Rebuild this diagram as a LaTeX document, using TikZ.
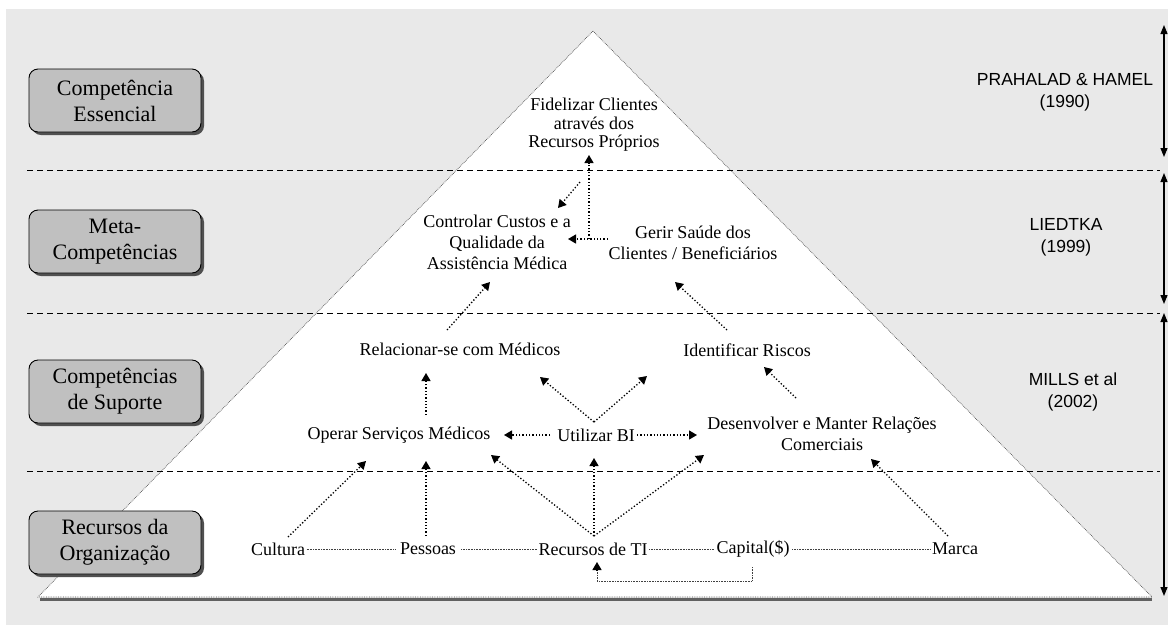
\documentclass[tikz,border=0pt]{standalone}
\usepackage{fontspec}
\setmainfont{Liberation Serif}
\newfontfamily\refsans{Liberation Sans}
\usetikzlibrary{arrows.meta,shadows,calc}

\definecolor{bggray}{HTML}{E9E9E9}
\definecolor{boxgray}{HTML}{C0C0C0}
\definecolor{shadowgray}{HTML}{505050}

\begin{document}
\begin{tikzpicture}[x=1pt,y=-1pt,
  lvlbox/.style={draw=black, line width=0.9pt, fill=boxgray, rounded corners=9pt,
    minimum width=172pt, minimum height=63pt, inner sep=0pt, align=center,
    font=\fontsize{22}{26}\selectfont,
    drop shadow={shadow xshift=3pt, shadow yshift=-3pt, fill=shadowgray, opacity=1}},
  txt/.style={font=\fontsize{18}{21}\selectfont, align=center, inner sep=0pt},
  reflab/.style={font=\refsans\fontsize{17.5}{22}\selectfont, align=center, inner sep=0pt},
  dotarr/.style={line width=1.3pt, dotted, -{Triangle[length=8pt,width=9pt]}},
  dotline/.style={line width=1.3pt, dotted},
  link/.style={line width=0.6pt, densely dotted, draw=black!75},
  levelsep/.style={line width=0.9pt, dash pattern=on 6pt off 4pt},
  refarr/.style={line width=1.2pt, {Triangle[length=9pt,width=7pt]}-{Triangle[length=9pt,width=7pt]}}
]
% canvas and background panel
\useasboundingbox (0,0) rectangle (1168,625);
\fill[white] (0,0) rectangle (1168,625);
\fill[bggray] (6,9) rectangle (1168,625);

% pyramid with base shadow
\draw[line width=3pt, draw=black!62] (40,599.5) -- (1152,599.5);
\filldraw[fill=white, draw=black!70, line width=0.7pt, densely dotted]
  (593,31) -- (1152,597) -- (38,597) -- cycle;

% level separators
\draw[levelsep] (27,170) -- (1160,170);
\draw[levelsep] (27,313) -- (1160,313);
\draw[levelsep] (27,471) -- (1160,471);

% level boxes
\node[lvlbox] (essencial) at (115,100.5) {Competência\\Essencial};
\node[lvlbox] (meta) at (115,241.5) {Meta-\\Competências};
\node[lvlbox] (suporte) at (115,391.5) {Competências\\de Suporte};
\node[lvlbox] (recursos) at (115,542.5) {Recursos da\\Organização};

% references and their spans
\node[reflab] (prah) at (1065,92) {PRAHALAD \& HAMEL\\(1990)};
\node[reflab] (lied) at (1066,237) {LIEDTKA\\(1999)};
\node[reflab] (mills) at (1073,392) {MILLS et al\\(2002)};
\coordinate (s1a) at (1164,25);  \coordinate (s1b) at (1164,157);
\coordinate (s2a) at (1164,173); \coordinate (s2b) at (1164,304);
\coordinate (s3a) at (1164,313); \coordinate (s3b) at (1164,596);
\draw[refarr] (s1a) -- (s1b);
\draw[refarr] (s2a) -- (s2b);
\draw[refarr] (s3a) -- (s3b);

% competences and resources
\node[txt, font=\fontsize{18}{18.5}\selectfont] (fid) at (594,125) {Fidelizar Clientes\\através dos\\Recursos Próprios};
\node[txt] (ctrl) at (497,242) {Controlar Custos e a\\Qualidade da\\Assistência Médica};
\node[txt] (gerir) at (693,243) {Gerir Saúde dos\\Clientes / Beneficiários};
\node[txt] (rel) at (460,349) {Relacionar-se com Médicos};
\node[txt] (idr) at (747,350) {Identificar Riscos};
\node[txt] (op) at (399,435) {Operar Serviços Médicos};
\node[txt] (bi) at (596,435) {Utilizar BI};
\node[txt] (des) at (822,434) {Desenvolver e Manter Relações\\Comerciais};
\node[txt, inner xsep=1.5pt] (cul) at (278,549) {Cultura};
\node[txt, inner xsep=5pt] (pes) at (428,549) {Pessoas};
\node[txt, inner xsep=1.5pt] (ti) at (593,549) {Recursos de TI};
\node[txt, inner xsep=2.5pt] (cap) at (753,549) {Capital(\$)};
\node[txt, inner xsep=1pt] (mar) at (955,549) {Marca};

% links between the resources
\draw[link] (cul.east) -- (pes.west);
\draw[link] (pes.east) -- (ti.west);
\draw[link] (ti.east) -- (cap.west);
\draw[link] (cap.east) -- (mar.west);

% top level links
\coordinate (jn) at ($(fid)+(-5,114)$);
\draw[dotarr] (jn) -- ($(fid)+(-5,30)$);
\draw[dotarr] ($(gerir)+(-85,-4)$) -- ($(ctrl)+(71,-3)$);
\draw[dotarr] ($(fid)+(-14,57)$) -- ($(ctrl)+(61,-34)$);

% meta-competence links
\draw[dotarr] ($(rel)+(-13,-19)$) -- ($(ctrl)+(-7,40)$);
\draw[dotarr] ($(idr)+(-20,-20)$) -- ($(gerir)+(-18,39)$);

% support-competence links
\draw[dotarr] ($(op)+(27,-20)$) -- ($(rel)+(-34,24)$);
\draw[dotarr] ($(bi)+(-2,-13)$) -- ($(rel)+(80,28)$);
\draw[dotarr] ($(bi)+(-2,-13)$) -- ($(idr)+(-100,26)$);
\draw[dotarr] ($(bi)+(-46,0)$) -- ($(op)+(105,0)$);
\draw[dotarr] ($(bi)+(41,0)$) -- ($(des)+(-125,1)$);
\draw[dotarr] ($(des)+(-26,-36)$) -- ($(idr)+(17,17)$);

% resource links
\draw[dotarr] ($(cul)+(10,-12)$) -- ($(op)+(-33,26)$);
\draw[dotarr] ($(pes)+(-2,-13)$) -- ($(op)+(27,26)$);
\draw[dotarr] ($(ti)+(1,-13)$) -- ($(op)+(92,20)$);
\draw[dotarr] ($(ti)+(1,-13)$) -- ($(bi)+(-2,23)$);
\draw[dotarr] ($(ti)+(1,-13)$) -- ($(des)+(-118,21)$);
\draw[dotarr] ($(mar)+(-7,-13)$) -- ($(des)+(49,25)$);

% capital feeds back into IT resources
\draw[link, line width=0.9pt] ($(cap)+(-1,18)$) -- ($(cap)+(-1,32)$) -| ($(ti)+(4,20)$);
\draw[dotarr] ($(ti)+(4,21)$) -- ($(ti)+(4,13)$);
\end{tikzpicture}
\end{document}
